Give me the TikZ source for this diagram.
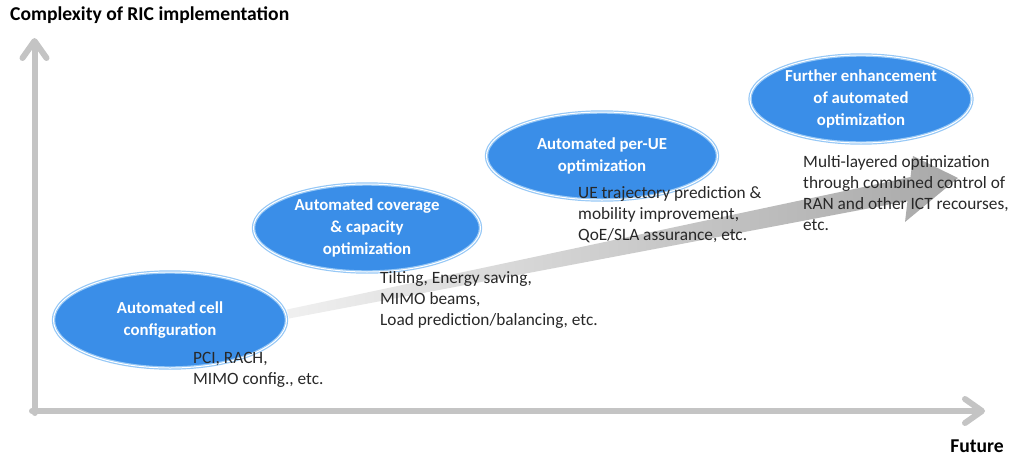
\documentclass[tikz,border=0pt]{standalone}
\usepackage{fontspec}
\setmainfont{Carlito}
\usetikzlibrary{shapes.geometric,arrows.meta}
\definecolor{axisgray}{RGB}{196,196,196}
\definecolor{stageblue}{RGB}{58,142,232}
\definecolor{ringblue}{RGB}{150,200,246}
\definecolor{notegray}{RGB}{40,40,40}
\begin{document}
\begin{tikzpicture}[x=1pt,y=-1pt,
   axis/.style={line width=6pt,axisgray,line cap=round,-{Straight Barb[length=17pt,width=24pt,line join=round,line cap=round]}},
   stage/.style={ellipse,fill=stageblue,draw=ringblue,line width=1.2pt,double=white,double distance=1pt,
                 text=white,font=\bfseries\fontsize{16.8}{22}\selectfont,align=center,inner xsep=0pt,inner ysep=-7pt},
   note/.style={anchor=north west,inner sep=0pt,text=notegray,align=left,font=\fontsize{17.3}{21}\selectfont},
   axislabel/.style={inner sep=0pt,text=black,font=\bfseries\fontsize{19.6}{23}\selectfont}]
   \useasboundingbox (0,0) rectangle (1009,458);
   \draw[axis] (34.5,413) -- (34.5,38);
   \draw[axis] (32,411) -- (985,411);
   \shade[left color=gray!12,right color=gray!68] (287,309.5) -- (910.5,177) -- (913,156) -- (958,178) -- (905,222) -- (907.5,201) -- (289,318.5) -- cycle;
   \node[stage,minimum width=233pt,minimum height=96pt] (cell) at (170,320) {Automated cell\\configuration};
   \node[stage,minimum width=227pt,minimum height=88pt] (coverage) at (367,228) {Automated coverage\\\& capacity\\optimization};
   \node[stage,minimum width=231pt,minimum height=88pt] (perue) at (602,156) {Automated per-UE\\optimization};
   \node[stage,minimum width=222pt,minimum height=88pt] (further) at (861,99) {Further enhancement\\of automated\\optimization};
   \node[note] (cellnote) at (193,352) {PCI, RACH,\\MIMO config., etc.};
   \node[note] (coveragenote) at (380,271) {Tilting, Energy saving,\\MIMO beams,\\Load prediction/balancing, etc.};
   \node[note] (peruenote) at (578,186) {UE trajectory prediction \&\\mobility improvement,\\QoE/SLA assurance, etc.};
   \node[note] (furthernote) at (803,155) {Multi-layered optimization\\through combined control of\\RAN and other ICT recourses,\\etc.};
   \node[axislabel,anchor=west] (ylabel) at (10,15) {Complexity of RIC implementation};
   \node[axislabel] (xlabel) at (977,446) {Future};
\end{tikzpicture}
\end{document}
